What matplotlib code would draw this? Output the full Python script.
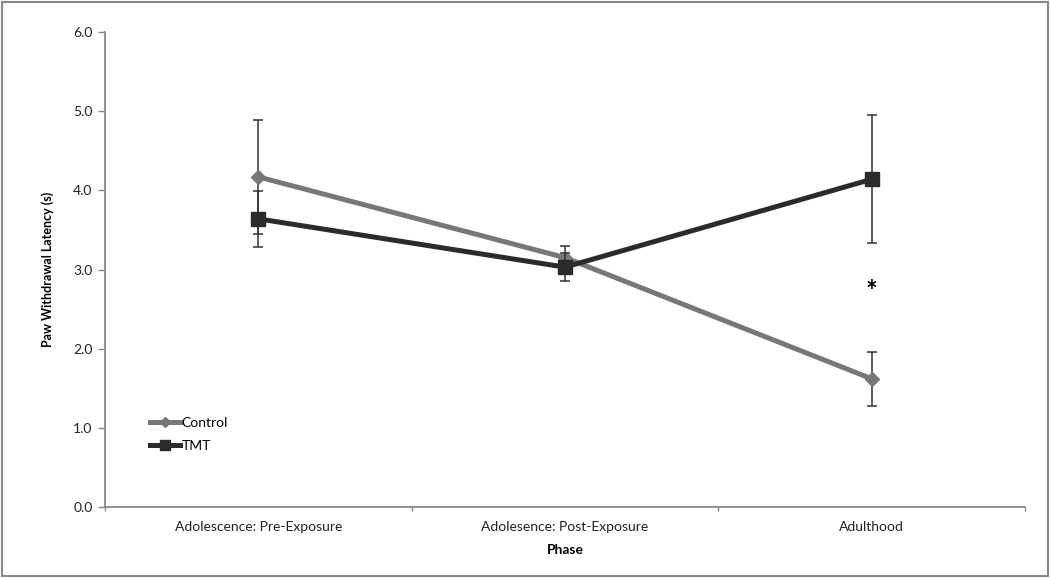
import matplotlib
matplotlib.use("Agg")
import matplotlib.pyplot as plt
from matplotlib.patches import Rectangle
from matplotlib.lines import Line2D

categories = ["Adolescence: Pre-Exposure", "Adolesence: Post-Exposure", "Adulthood"]
control_mean = [4.17, 3.15, 1.62]
control_err = [0.72, 0.15, 0.34]
tmt_mean = [3.64, 3.03, 4.14]
tmt_err = [0.35, 0.18, 0.81]
yticks = [0.0, 1.0, 2.0, 3.0, 4.0, 5.0, 6.0]

plt.rcParams['font.family'] = ['Lato', 'DejaVu Sans']

fig = plt.figure(figsize=(10.5, 5.78), dpi=100)
ax = fig.add_axes([0.1, 0.1228, 0.8762, 0.8218])

ctrl_color = '#777777'
tmt_color = '#2b2b2b'
x = list(range(len(categories)))
ax.errorbar(x, control_mean, yerr=control_err, color=ctrl_color, lw=3.6,
            marker='D', markersize=7, ecolor='#333333', elinewidth=1.1,
            capsize=3.5, capthick=1.1, zorder=3)
ax.errorbar(x, tmt_mean, yerr=tmt_err, color=tmt_color, lw=3.6,
            marker='s', markersize=9.5, ecolor='#333333', elinewidth=1.1,
            capsize=3.5, capthick=1.1, zorder=4)

ax.text(x[2], 2.72, '*', ha='center', va='center', fontsize=20, fontweight='bold')

ax.set_xlim(-0.5, len(categories) - 0.5)
ax.set_ylim(0, 6)
ax.set_yticks(yticks)
ax.set_yticklabels([f"{v:.1f}" for v in yticks], fontsize=10, color='#222222')
ax.set_xticks(x)
ax.set_xticklabels(categories, fontsize=10, color='#222222')
ax.set_xticks([-0.5, 0.5, 1.5, 2.5], minor=True)
ax.tick_params(axis='x', which='major', length=0, pad=10)
ax.tick_params(axis='x', which='minor', length=3, color='#888888', width=1)
ax.tick_params(axis='y', length=5, color='#888888', width=1, pad=4)

for s in ['top', 'right']:
    ax.spines[s].set_visible(False)
for s in ['left', 'bottom']:
    ax.spines[s].set_color('#888888')
    ax.spines[s].set_linewidth(1.3)

ax.set_xlabel('Phase', fontsize=10, fontweight='bold', labelpad=8)
ax.set_ylabel('Paw Withdrawal Latency (s)', fontsize=9, fontweight='bold', labelpad=14)

handles = [Line2D([], [], color=ctrl_color, lw=3.6, marker='D', markersize=5),
           Line2D([], [], color=tmt_color, lw=3.6, marker='s', markersize=6.5)]
ax.legend(handles, ['Control', 'TMT'], loc='lower left', bbox_to_anchor=(0.035, 0.09),
          frameon=False, fontsize=10, handlelength=2.2, handletextpad=0.1,
          labelspacing=0.75)

fig.patches.append(Rectangle((0.002, 0.003), 0.996, 0.994, transform=fig.transFigure,
                             fill=False, edgecolor='#888888', lw=1.5))

fig.savefig('out.png', dpi=100, facecolor='white')
